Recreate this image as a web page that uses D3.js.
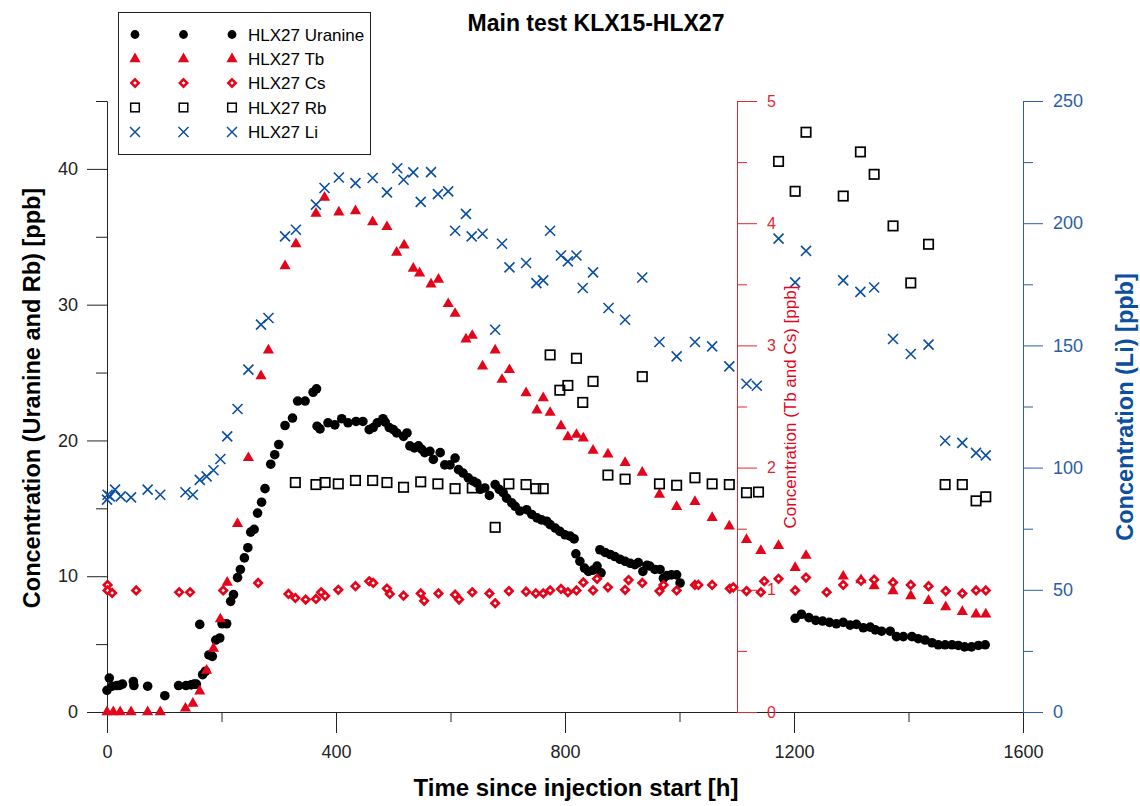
<!DOCTYPE html>
<html>
<head>
<meta charset="utf-8">
<script src="https://cdn.jsdelivr.net/npm/d3@7"></script>
<style>
  body { margin: 0; background: #fff; }
  svg { font-family: "Liberation Sans", Arial, sans-serif; }
</style>
</head>
<body>
<svg id="chart"></svg>
<script>
// data: [time h, concentration ppb]
const uranine = [[0,1.6],[4,2.5],[9,1.9],[17,1.95],[22,1.96],[27,2.05],[46,2.25],[47,1.95],[71,1.9],[101,1.2],[125,1.95],[138,1.95],[147,2.0],[152,2.05],[156,2.05],[162,6.45],[167,2.75],[172,3.0],[178,4.2],[184,4.1],[190,5.3],[197,5.45],[201,6.5],[209,6.5],[216,8.15],[221,8.65],[228,9.9],[233,10.5],[240,11.35],[246,12.1],[251,13.25],[257,13.45],[263,14.65],[270,15.45],[276,16.45],[286,18.25],[293,18.95],[300,19.7],[311,21.1],[324,21.65],[333,22.9],[346,22.9],[360,23.55],[366,23.8],[367,21.05],[372,20.85],[386,21.3],[398,21.15],[410,21.6],[421,21.3],[435,21.4],[447,21.4],[458,20.8],[465,20.95],[472,21.3],[482,21.6],[486,21.35],[493,20.95],[500,20.8],[506,20.55],[518,20.3],[524,20.55],[529,19.6],[537,19.45],[544,19.6],[550,19.35],[555,19.1],[564,19.2],[570,18.6],[582,19.1],[590,18.2],[599,18.2],[608,18.7],[614,17.85],[622,17.6],[631,17.25],[640,17.0],[646,16.85],[652,16.4],[660,16.5],[668,15.95],[678,16.75],[685,16.4],[692,16.15],[698,15.75],[707,15.4],[713,15.15],[721,14.8],[733,14.9],[742,14.55],[751,14.3],[759,14.15],[768,14.05],[774,13.8],[783,13.55],[791,13.3],[800,13.05],[809,12.95],[816,12.75],[819,11.65],[826,11.1],[834,10.6],[841,10.35],[849,10.45],[856,10.75],[863,10.25],[861,11.95],[870,11.75],[879,11.6],[887,11.45],[896,11.25],[905,11.1],[914,10.95],[922,10.85],[928,11.0],[936,10.35],[943,10.8],[948,10.75],[957,10.5],[966,10.5],[972,9.85],[978,10.05],[986,10.1],[995,10.1],[1001,9.5],[1202,6.9],[1213,7.2],[1226,6.95],[1238,6.75],[1250,6.7],[1262,6.6],[1274,6.5],[1286,6.6],[1298,6.4],[1309,6.45],[1321,6.2],[1333,6.25],[1342,6.05],[1353,5.95],[1368,5.95],[1379,5.55],[1391,5.55],[1406,5.55],[1417,5.4],[1429,5.3],[1441,5.1],[1452,4.95],[1464,4.95],[1476,4.95],[1487,4.9],[1498,4.8],[1510,4.8],[1522,4.9],[1534,4.95]];

const tb = [[0,0],[11,0],[23,0],[42,0],[71,0],[93,0],[137,0.03],[150,0.07],[162,0.17],[174,0.34],[186,0.52],[198,0.76],[210,1.06],[228,1.54],[247,2.08],[269,2.75],[282,2.96],[311,3.65],[330,3.83],[365,4.08],[380,4.21],[405,4.09],[434,4.10],[464,4.01],[489,3.97],[506,3.76],[519,3.82],[535,3.63],[546,3.59],[566,3.50],[579,3.54],[596,3.34],[608,3.26],[627,3.05],[638,3.08],[656,2.83],[678,2.96],[690,2.72],[703,2.80],[732,2.61],[751,2.47],[762,2.57],[774,2.45],[793,2.34],[805,2.25],[820,2.27],[832,2.24],[849,2.14],[875,2.11],[905,2.04],[935,1.96],[965,1.78],[995,1.68],[1027,1.72],[1057,1.59],[1087,1.52],[1117,1.41],[1142,1.32],[1173,1.36],[1202,1.18],[1221,1.28],[1286,1.11],[1317,1.08],[1340,1.03],[1373,0.99],[1404,0.95],[1435,0.91],[1465,0.86],[1494,0.82],[1518,0.80],[1535,0.80]];

const cs = [[1,1.04],[1,0.995],[9,0.974],[51,0.995],[126,0.98],[145,0.98],[203,0.995],[264,1.056],[317,0.966],[329,0.933],[347,0.92],[365,0.925],[374,0.98],[381,0.95],[404,1.0],[434,1.03],[458,1.07],[465,1.056],[489,1.01],[494,0.966],[518,0.952],[548,0.97],[554,0.91],[579,0.97],[608,0.96],[615,0.92],[638,0.98],[668,0.97],[678,0.89],[702,0.99],[732,0.985],[749,0.97],[762,0.97],[774,0.995],[793,1.007],[805,0.98],[820,0.995],[832,1.06],[849,0.995],[856,1.09],[875,1.02],[905,1.0],[911,1.08],[935,1.056],[965,0.99],[972,1.04],[995,0.995],[1027,1.04],[1033,1.04],[1057,1.04],[1088,1.01],[1094,1.02],[1117,0.99],[1142,0.98],[1148,1.07],[1173,1.09],[1202,0.995],[1221,1.10],[1257,0.98],[1286,1.04],[1317,1.075],[1340,1.083],[1373,1.06],[1404,1.04],[1435,1.03],[1465,0.99],[1494,0.97],[1518,0.995],[1535,0.995]];

const rb = [[329,16.9],[365,16.75],[381,16.9],[404,16.8],[434,17.05],[464,17.05],[489,16.9],[518,16.55],[548,16.95],[578,16.8],[608,16.45],[638,16.5],[678,13.6],[702,16.8],[732,16.75],[749,16.45],[762,16.45],[774,26.3],[791,23.7],[805,24.05],[820,26.05],[831,22.8],[849,24.35],[875,17.45],[905,17.15],[935,24.7],[965,16.8],[995,16.7],[1027,17.25],[1057,16.8],[1087,16.75],[1117,16.15],[1138,16.2],[1173,40.55],[1202,38.35],[1221,42.7],[1286,38.0],[1316,41.25],[1340,39.6],[1373,35.8],[1404,31.6],[1435,34.45],[1464,16.75],[1494,16.75],[1518,15.55],[1535,15.85]];

const li = [[0,86.9],[1,88.9],[5,88.2],[14,91.0],[24,88.2],[42,87.8],[71,91.0],[93,88.9],[137,89.9],[150,88.9],[162,95.0],[174,96.4],[186,98.9],[198,103.5],[210,112.8],[228,124.0],[247,140.1],[269,158.5],[282,161.2],[311,194.6],[330,197.3],[365,207.6],[380,214.4],[405,218.7],[434,216.4],[464,218.5],[489,212.6],[507,222.5],[518,217.8],[535,220.8],[548,208.7],[566,220.9],[578,211.9],[596,213.0],[608,196.9],[627,203.8],[637,194.6],[656,195.7],[678,156.4],[690,191.6],[703,181.9],[732,183.7],[750,175.5],[762,176.6],[774,196.9],[793,186.8],[805,184.4],[820,186.8],[831,173.5],[849,179.9],[876,165.3],[905,160.5],[935,177.8],[965,151.4],[995,145.5],[1027,151.4],[1057,149.6],[1087,141.4],[1117,134.3],[1135,133.5],[1173,193.7],[1202,175.8],[1221,188.7],[1286,176.6],[1316,171.9],[1340,173.7],[1373,152.6],[1404,146.5],[1435,150.3],[1464,111],[1494,110.1],[1518,106],[1535,105]];

// ticks and labels
const xMajor = [0, 400, 800, 1200, 1600];
const xMinor = [200, 600, 1000, 1400];
const leftMajor = [0, 10, 20, 30, 40];
const leftMinor = [5, 15, 25, 35, 45];
const redMajor = [0, 1, 2, 3, 4, 5];
const redMinor = [0.5, 1.5, 2.5, 3.5, 4.5];
const blueMajor = [0, 50, 100, 150, 200, 250];
const blueMinor = [25, 75, 125, 175, 225];
const legendNames = ["HLX27 Uranine", "HLX27 Tb", "HLX27 Cs", "HLX27 Rb", "HLX27 Li"];

const RED = "#e3051b";
const BLUE = "#0b4f9f";

const svg = d3.select("#chart").attr("width", 1140).attr("height", 806);

const x = d3.scaleLinear().domain([0, 1600]).range([107, 1023]);
const yL = d3.scaleLinear().domain([0, 45]).range([712, 101]);
const yR = d3.scaleLinear().domain([0, 5]).range([712, 101]);
const yB = d3.scaleLinear().domain([0, 250]).range([712, 101]);

// axis helper: major ticks with labels + minor ticks without
function drawAxis(axisFn, scale, major, minor, pos, color, fontSize, pad, bigTick, smallTick) {
  const g = svg.append("g").attr("transform", pos);
  g.append("g").call(axisFn(scale).tickValues(major).tickSize(bigTick).tickSizeOuter(0).tickPadding(pad).tickFormat(d3.format("d")));
  g.append("g").call(axisFn(scale).tickValues(minor).tickSize(smallTick).tickSizeOuter(0).tickFormat(""));
  g.selectAll("path,line").attr("stroke", color).attr("stroke-width", 1);
  g.selectAll("text").attr("fill", color).attr("font-size", fontSize)
    .attr("font-family", "'Liberation Sans', Arial, sans-serif");
  return g;
}

drawAxis(d3.axisBottom, x, xMajor, xMinor, "translate(0,712)", "#222", 18, 12, 21, 10);
drawAxis(d3.axisLeft, yL, leftMajor, leftMinor, "translate(107,0)", "#222", 18, 9, 20, 11);
drawAxis(d3.axisRight, yR, redMajor, redMinor, "translate(737,0)", "#e5262f", 16, 10, 20, 10);
drawAxis(d3.axisRight, yB, blueMajor, blueMinor, "translate(1023,0)", "#2a5ea6", 18, 10, 20, 10);

// marker shapes
const triPath = d3.symbol().type(d3.symbolTriangle).size(54)();
const diaPath = "M0,-3.7L3.7,0L0,3.7L-3.7,0Z";
const xPath = "M-5,-5L5,5M-5,5L5,-5";

function marks(data, yScale, kind) {
  const g = svg.append("g");
  const sel = g.selectAll("." + kind).data(data).enter();
  if (kind === "circle") {
    sel.append("circle").attr("cx", d => x(d[0])).attr("cy", d => yScale(d[1]))
      .attr("r", 4.8).attr("fill", "#000");
  } else if (kind === "tri") {
    sel.append("path").attr("d", triPath).attr("fill", RED)
      .attr("transform", d => `translate(${x(d[0])},${yScale(d[1])})`);
  } else if (kind === "dia") {
    sel.append("path").attr("d", diaPath).attr("fill", "#fff").attr("stroke", RED).attr("stroke-width", 2.7)
      .attr("transform", d => `translate(${x(d[0])},${yScale(d[1])})`);
  } else if (kind === "sq") {
    sel.append("rect").attr("x", d => x(d[0]) - 4.7).attr("y", d => yScale(d[1]) - 4.7)
      .attr("width", 9.4).attr("height", 9.4).attr("fill", "none").attr("stroke", "#000").attr("stroke-width", 1.7);
  } else {
    sel.append("path").attr("d", xPath).attr("fill", "none").attr("stroke", BLUE).attr("stroke-width", 1.6)
      .attr("transform", d => `translate(${x(d[0])},${yScale(d[1])})`);
  }
}

marks(uranine, yL, "circle");
marks(tb, yR, "tri");
marks(cs, yR, "dia");
marks(rb, yL, "sq");
marks(li, yB, "cross");

// titles
svg.append("text").attr("x", 596).attr("y", 31).attr("text-anchor", "middle")
  .attr("font-size", 23).attr("font-weight", "bold").text("Main test KLX15-HLX27");
svg.append("text").attr("x", 576).attr("y", 796).attr("text-anchor", "middle")
  .attr("font-size", 24).attr("font-weight", "bold").text("Time since injection start [h]");
svg.append("text").attr("transform", "translate(40,398) rotate(-90)").attr("text-anchor", "middle")
  .attr("font-size", 23.5).attr("font-weight", "bold").text("Concentration (Uranine and Rb) [ppb]");
svg.append("text").attr("transform", "translate(796,407) rotate(-90)").attr("text-anchor", "middle")
  .attr("font-size", 17).attr("fill", RED).text("Concentration (Tb and Cs) [ppb]");
svg.append("text").attr("transform", "translate(1133,407) rotate(-90)").attr("text-anchor", "middle")
  .attr("font-size", 23.5).attr("font-weight", "bold").attr("fill", BLUE).text("Concentration (Li) [ppb]");

// legend
const leg = svg.append("g");
leg.append("rect").attr("x", 118.5).attr("y", 12.5).attr("width", 252).attr("height", 142)
  .attr("fill", "#fff").attr("stroke", "#222").attr("stroke-width", 1);
const kinds = ["circle", "tri", "dia", "sq", "cross"];
const rowY = [34.5, 59, 83, 107.5, 132];
const symX = [135, 183.5, 232];
kinds.forEach((k, i) => {
  symX.forEach(sx => {
    const t = `translate(${sx},${rowY[i]})`;
    if (k === "circle") leg.append("circle").attr("cx", sx).attr("cy", rowY[i]).attr("r", 4.4).attr("fill", "#000");
    else if (k === "tri") leg.append("path").attr("d", triPath).attr("transform", t).attr("fill", RED);
    else if (k === "dia") leg.append("path").attr("d", diaPath).attr("transform", t).attr("fill", "#fff").attr("stroke", RED).attr("stroke-width", 2.5);
    else if (k === "sq") leg.append("rect").attr("x", sx - 4.3).attr("y", rowY[i] - 4.3).attr("width", 8.6).attr("height", 8.6).attr("fill", "none").attr("stroke", "#000").attr("stroke-width", 1.5);
    else leg.append("path").attr("d", xPath).attr("transform", t).attr("fill", "none").attr("stroke", BLUE).attr("stroke-width", 1.5);
  });
  leg.append("text").attr("x", 248).attr("y", rowY[i] + 6).attr("font-size", 17).text(legendNames[i]);
});
</script>
</body>
</html>
